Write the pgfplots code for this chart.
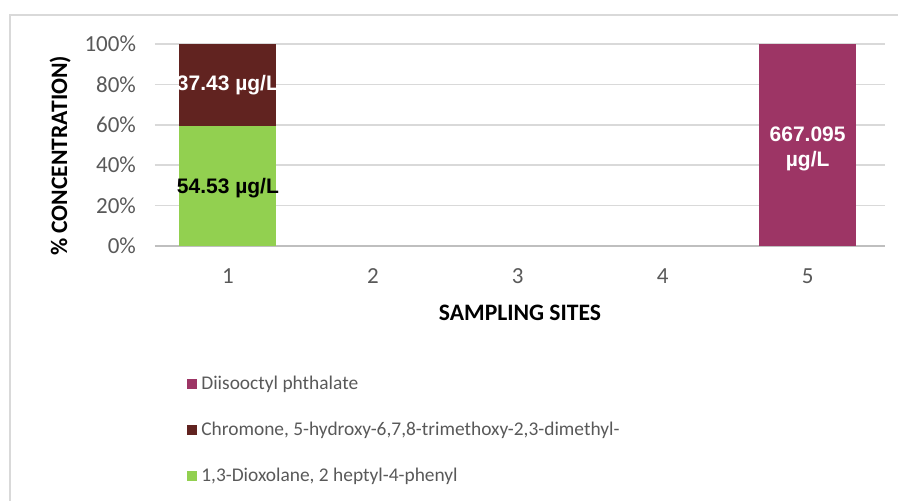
\documentclass[border=0pt]{standalone}
\usepackage{fontspec}
\setmainfont{Carlito}
\newfontfamily\arial{Liberation Sans}
\usepackage{pgfplots}
\pgfplotsset{compat=1.18}
\definecolor{cgreen}{HTML}{92D050}
\definecolor{cbrown}{HTML}{612320}
\definecolor{cmag}{HTML}{9D3565}
\definecolor{tickgray}{HTML}{595959}
\definecolor{gridgray}{HTML}{D9D9D9}
\definecolor{axgray}{HTML}{BFBFBF}
\begin{document}
\begin{tikzpicture}[x=1pt,y=1pt]
\path[use as bounding box] (0,0) rectangle (449,250.5);
\draw[gridgray, line width=1pt] (5,0) -- (5,243) -- (449,243);
\begin{axis}[
  at={(77.5pt,127.5pt)}, anchor=south west, scale only axis,
  width=365pt, height=101pt,
  ybar stacked, bar width=48.5pt,
  xmin=0.497, xmax=5.534, ymin=0, ymax=100,
  xtick={1,2,3,4,5}, ytick={0,20,40,60,80,100},
  yticklabel={\pgfmathprintnumber{\tick}\%},
  /pgf/number format/assume math mode=true,
  ymajorgrids, grid style={gridgray, line width=0.8pt},
  axis x line*=bottom, axis y line*=left,
  x axis line style={axgray, line width=1pt, -},
  y axis line style={draw=none},
  major tick length=0pt,
  tick label style={font=\fontsize{11.5}{13}\selectfont, text=tickgray},
  xticklabel style={yshift=-8pt},
  yticklabel style={xshift=-6pt},
  xlabel={\textbf{SAMPLING SITES}},
  ylabel={\textbf{\% CONCENTRATION)}},
  label style={font=\fontsize{11.8}{13}\selectfont},
  xlabel style={at={(axis description cs:0.5,-0.332)}, anchor=center},
  ylabel style={at={(axis description cs:-0.130,0.446)}, anchor=center},
  reverse legend,
  legend cell align=left,
  legend style={at={(axis description cs:0.035,-0.60)}, anchor=north west, draw=none, fill=none,
    font=\fontsize{9.7}{11.5}\selectfont, text=tickgray, row sep=10.8pt},
  legend image code/.code={\fill[#1] (0pt,-2.6pt) rectangle (5.2pt,2.6pt);},
]
\addplot[fill=cgreen, draw=none] coordinates {(1,59.30) (2,0) (3,0) (4,0) (5,0)};
\addlegendentry{1,3-Dioxolane, 2 heptyl-4-phenyl}
\addplot[fill=cbrown, draw=none] coordinates {(1,40.70) (2,0) (3,0) (4,0) (5,0)};
\addlegendentry{Chromone, 5-hydroxy-6,7,8-trimethoxy-2,3-dimethyl-}
\addplot[fill=cmag, draw=none] coordinates {(1,0) (2,0) (3,0) (4,0) (5,100)};
\addlegendentry{Diisooctyl phthalate}
\coordinate (lb) at (axis cs:1,79.65);
\coordinate (lg) at (axis cs:1,28.7);
\coordinate (lm) at (axis cs:5,48);
\end{axis}
\node[font=\arial\bfseries\fontsize{10.5}{12}\selectfont, text=white] at (lb) {37.43 µg/L};
\node[font=\arial\bfseries\fontsize{10.5}{12}\selectfont, text=black] at (lg) {54.53 µg/L};
\node[font=\arial\bfseries\fontsize{10.5}{12.5}\selectfont, text=white, align=center] at (lm) {667.095\\µg/L};
\end{tikzpicture}
\end{document}
